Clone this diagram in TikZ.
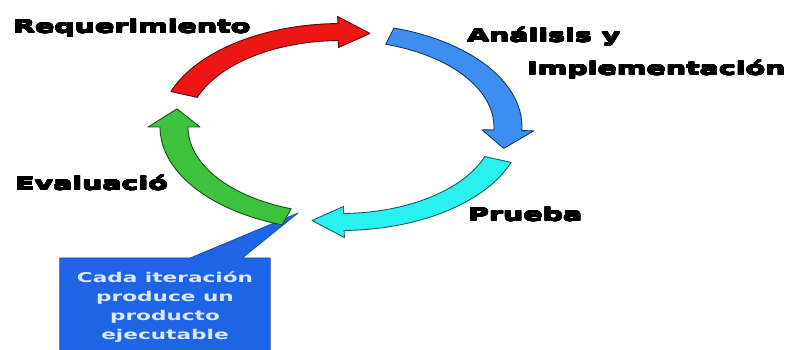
\documentclass[tikz,border=0pt]{standalone}
\usepackage{fontspec}
\usepackage{contour}
\usetikzlibrary{calc,backgrounds}

% wide heavy lettering for the stage names, wide face for the note
\newfontfamily\headfont[FakeStretch=1.6]{DejaVu Sans}
\newfontfamily\notefont[FakeStretch=1.6]{DejaVu Sans}
\contourlength{0.4pt}
\contournumber{16}
\newcommand\heavy[1]{\contour{black}{#1}}

\definecolor{stagered}{HTML}{EE1515}
\definecolor{stageblue}{HTML}{3D8EF0}
\definecolor{stagecyan}{HTML}{2AF0F0}
\definecolor{stagegreen}{HTML}{3EC23E}
\definecolor{notefill}{HTML}{1E64E6}
\definecolor{noteline}{HTML}{1A4FB0}
\definecolor{notetext}{HTML}{DCE8FF}

% ring geometry: centre, centre-line radii, half band widths, half head widths
\def\ringCX{341}
\def\ringCY{223}
\def\ringRX{167}
\def\ringRY{95}
\def\ringWX{14}
\def\ringWY{8.5}
\def\ringHX{26}
\def\ringHY{15.5}

\tikzset{
  ringpiece/.style={line width=0.9pt, line join=round},
  stagelabel/.style={anchor=base west, inner sep=0pt,
    font=\headfont\bfseries\fontsize{17.8}{20}\selectfont},
  notebox/.style={anchor=north, inner xsep=4pt, inner ysep=14pt,
    minimum width=210pt, align=center, text=notetext,
    font=\notefont\bfseries\fontsize{13.5}{19}\selectfont},
  noteshape/.style={fill=notefill, draw=noteline, line width=0.8pt, line join=round}
}

% curved block arrow along the ring:
% #1 tail angle, #2 angle of the head base, #3 tip angle, #4 colour
\newcommand\ringarrow[4]{%
  \draw[ringpiece, fill=#4, draw=#4!40!black]
    plot[domain=#1:#2, samples=40, variable=\t]
      ({\ringCX+(\ringRX+\ringWX)*cos(\t)},{\ringCY+(\ringRY+\ringWY)*sin(\t)})
    -- ({\ringCX+(\ringRX+\ringHX)*cos(#2)},{\ringCY+(\ringRY+\ringHY)*sin(#2)})
    -- ({\ringCX+\ringRX*cos(#3)},{\ringCY+\ringRY*sin(#3)})
    -- ({\ringCX+(\ringRX-\ringHX)*cos(#2)},{\ringCY+(\ringRY-\ringHY)*sin(#2)})
    -- plot[domain=#2:#1, samples=40, variable=\t]
      ({\ringCX+(\ringRX-\ringWX)*cos(\t)},{\ringCY+(\ringRY-\ringWY)*sin(\t)})
    -- cycle;}

\begin{document}
\begin{tikzpicture}[x=1pt, y=1pt]
  \useasboundingbox (0,0) rectangle (788,350);
  \clip (0,0) rectangle (788,350);

  % the four stages of the cycle
  \ringarrow{160}{91}{80}{stagered}
  \ringarrow{73}{-2}{-13}{stageblue}
  \ringarrow{-20}{-89}{-100}{stagecyan}
  \ringarrow{-109}{-180}{-191}{stagegreen}

  % stage names
  \node[stagelabel] (req)  at (13,317)  {\heavy{Requerimiento}};
  \node[stagelabel] (ana)  at (467,308) {\heavy{Análisis y}};
  \node[stagelabel] (impl) at (527,275) {\heavy{Implementación}};
  \node[stagelabel] (eval) at (15,160)  {\heavy{Evaluació}};
  \node[stagelabel] (prue) at (468,129) {\heavy{Prueba}};

  % callout note pointing at the end of the loop
  \coordinate (loopend) at (298,137);
  \node[notebox] (note) at (165,92)
    {Cada iteración\\produce un\\producto\\ejecutable};
  \begin{scope}[on background layer]
    \fill[white] (0,0) rectangle (788,350);
    \draw[noteshape]
      (note.north west)
      -- ($(note.north west)!0.62!(note.north east)$)
      -- (loopend)
      -- ($(note.north west)!0.867!(note.north east)$)
      -- (note.north east) -- (note.south east)
      -- (note.south west) -- cycle;
  \end{scope}
\end{tikzpicture}
\end{document}
